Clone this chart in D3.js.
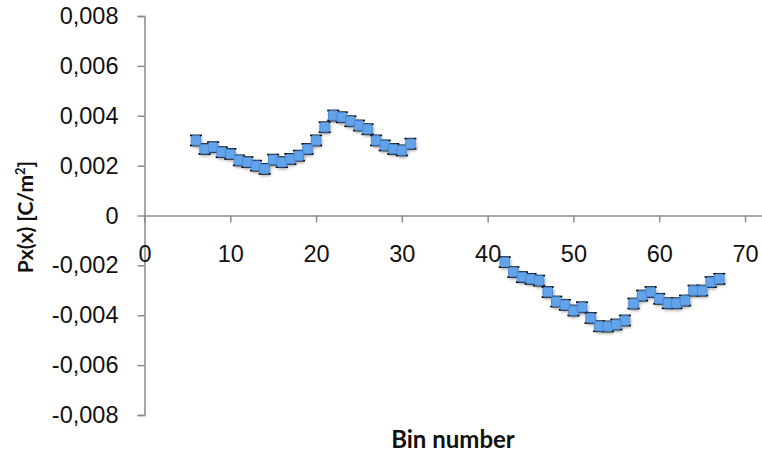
<!DOCTYPE html>
<meta charset="utf-8">
<html>
    <head>
        <style>
            html, body {
                margin: 0;
                padding: 0;
                background: #fff;
            }

            svg {
                display: block;
                font-family: Lato, "Open Sans", sans-serif;
            }

            .axis path,
            .axis line {
                stroke: #8c8c8c;
                stroke-width: 1.5;
            }

            .axis text {
                font-size: 23.5px;
                fill: #111;
            }

            .title {
                font-weight: bold;
                fill: #111;
            }

            .err {
                stroke: #000;
                stroke-width: 1.8;
            }

            .pt {
                fill: #62a3ea;
                stroke: #4d89d2;
                stroke-width: 1;
            }
        </style>
    </head>
    <body>
        <svg width="762" height="453"></svg>

        <script src="https://cdn.jsdelivr.net/npm/d3@7"></script>
        <script>
            // bins and polarization values
            var binsLeft = [6, 7, 8, 9, 10, 11, 12, 13, 14, 15, 16, 17, 18, 19, 20,
                21, 22, 23, 24, 25, 26, 27, 28, 29, 30, 31];
            var valuesLeft = [0.00301, 0.00267, 0.00274, 0.00254, 0.00247, 0.00221,
                0.00214, 0.00200, 0.00187, 0.00224, 0.00214, 0.00227, 0.00240,
                0.00267, 0.00301, 0.00354, 0.00401, 0.00394, 0.00378, 0.00361,
                0.00346, 0.00301, 0.00281, 0.00267, 0.00261, 0.00288];

            var binsRight = [42, 43, 44, 45, 46, 47, 48, 49, 50, 51, 52, 53, 54, 55,
                56, 57, 58, 59, 60, 61, 62, 63, 64, 65, 66, 67];
            var valuesRight = [-0.00187, -0.00227, -0.00247, -0.00254, -0.00261,
                -0.00307, -0.00345, -0.00358, -0.00381, -0.00368, -0.00411,
                -0.00444, -0.00445, -0.00437, -0.00421, -0.00353, -0.00321,
                -0.00307, -0.00334, -0.00352, -0.00352, -0.00341, -0.00301,
                -0.00301, -0.00267, -0.00254];

            var errorBar = 0.0002;

            var xTicks = [0, 10, 20, 30, 40, 50, 60, 70];
            var yTicks = [-0.008, -0.006, -0.004, -0.002, 0, 0.002, 0.004, 0.006, 0.008];

            var svg = d3.select("svg");

            var x = d3.scaleLinear()
                .domain([0, 70])
                .range([144.5, 745]);

            var y = d3.scaleLinear()
                .domain([-0.008, 0.008])
                .range([415, 16]);

            var locale = d3.formatLocale({
                decimal: ",",
                thousands: ".",
                grouping: [3],
                currency: ["", " €"],
                minus: "-"
            });
            var fmt = locale.format(".3f");

            var defs = svg.append("defs");
            defs.append("filter")
                .attr("id", "shadow")
                .attr("x", "-50%").attr("y", "-50%")
                .attr("width", "200%").attr("height", "200%")
                .append("feDropShadow")
                    .attr("dx", 1)
                    .attr("dy", 2)
                    .attr("stdDeviation", 1.4)
                    .attr("flood-color", "#000")
                    .attr("flood-opacity", 0.35);

            // y axis
            svg.append("g")
                .attr("class", "axis")
                .attr("transform", "translate(" + x(0) + ",0)")
                .call(d3.axisLeft(y)
                    .tickValues(yTicks)
                    .tickSize(7)
                    .tickPadding(19)
                    .tickFormat(function (d) {
                        return Math.abs(d) < 1e-9 ? "0" : fmt(d);
                    }));

            // x axis crossing at zero
            var xAxis = svg.append("g")
                .attr("class", "axis")
                .attr("transform", "translate(0," + y(0) + ")")
                .call(d3.axisBottom(x)
                    .tickValues(xTicks)
                    .tickSize(7)
                    .tickSizeOuter(0)
                    .tickPadding(28)
                    .tickFormat(d3.format("d")));

            xAxis.select(".domain")
                .attr("d", "M" + x(0) + ",0.5H762");
            xAxis.selectAll(".tick text")
                .attr("dy", "0.5em");

            svg.append("text")
                .attr("class", "title")
                .attr("x", 453)
                .attr("y", 448)
                .attr("text-anchor", "middle")
                .style("font-size", "24px")
                .text("Bin number");

            var yLabel = svg.append("text")
                .attr("class", "title")
                .attr("transform", "translate(33,217) rotate(-90)")
                .attr("text-anchor", "middle")
                .style("font-size", "21px");
            yLabel.append("tspan").text("Px(x) [C/m");
            yLabel.append("tspan")
                .attr("dy", -8)
                .style("font-size", "13px")
                .text("2");
            yLabel.append("tspan")
                .attr("dy", 8)
                .text("]");

            var points = binsLeft.map(function (b, i) {
                return { bin: b, value: valuesLeft[i] };
            }).concat(binsRight.map(function (b, i) {
                return { bin: b, value: valuesRight[i] };
            }));

            var capHalf = 6;
            var errs = svg.append("g").selectAll("g")
                .data(points)
                .enter()
                    .append("g")
                    .attr("class", "err");

            errs.append("line")
                .attr("x1", function (d) { return x(d.bin); })
                .attr("x2", function (d) { return x(d.bin); })
                .attr("y1", function (d) { return y(d.value + errorBar); })
                .attr("y2", function (d) { return y(d.value - errorBar); });
            errs.append("line")
                .attr("x1", function (d) { return x(d.bin) - capHalf; })
                .attr("x2", function (d) { return x(d.bin) + capHalf; })
                .attr("y1", function (d) { return y(d.value + errorBar); })
                .attr("y2", function (d) { return y(d.value + errorBar); });
            errs.append("line")
                .attr("x1", function (d) { return x(d.bin) - capHalf; })
                .attr("x2", function (d) { return x(d.bin) + capHalf; })
                .attr("y1", function (d) { return y(d.value - errorBar); })
                .attr("y2", function (d) { return y(d.value - errorBar); });

            var size = 9.5;
            svg.append("g")
                .attr("filter", "url(#shadow)")
                .selectAll("rect")
                .data(points)
                .enter()
                    .append("rect")
                    .attr("class", "pt")
                    .attr("x", function (d) { return x(d.bin) - size / 2; })
                    .attr("y", function (d) { return y(d.value) - size / 2; })
                    .attr("width", size)
                    .attr("height", size)
                    .attr("rx", 1.5);
        </script>
    </body>
</html>
